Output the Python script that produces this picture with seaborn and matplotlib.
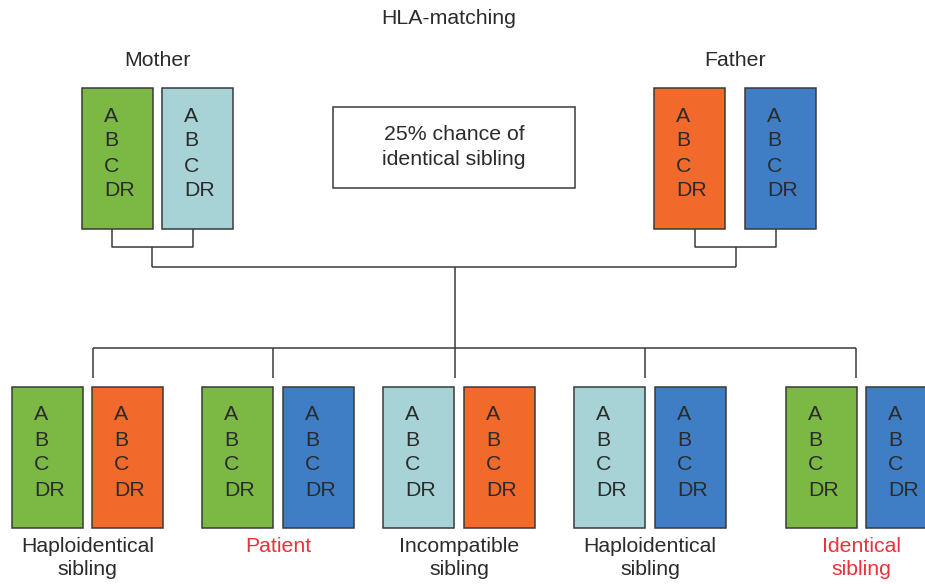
import matplotlib
matplotlib.use("Agg")
import matplotlib.pyplot as plt
import seaborn as sns

# ---- content ----
title = "HLA-matching"
parent_labels = ["Mother", "Father"]
loci = ["A", "B", "C", "DR"]
haplotype_colors = {"m1": "#7cb844", "m2": "#a7d3d6", "f1": "#f2692c", "f2": "#3f7ec4"}
parent_haplotypes = [["m1", "m2"], ["f1", "f2"]]
child_haplotypes = [["m1", "f1"], ["m1", "f2"], ["m2", "f1"], ["m2", "f2"], ["m1", "f2"]]
child_labels = ["Haploidentical\nsibling", "Patient", "Incompatible\nsibling",
                "Haploidentical\nsibling", "Identical\nsibling"]
child_label_red = [False, True, False, False, True]
note_text = "25% chance of\nidentical sibling"

# ---- layout (pixel coordinates) ----
W, H = 925, 584
box_w, box_h = 71, 141
parent_left = [[82, 162], [654, 745]]
parent_top = 88
child_left = [[12, 92], [202, 283], [383, 464], [574, 655], [786, 866]]
child_top = 387
drop_x = [93, 273, 455, 645, 856]

sns.set_theme(style="white")
plt.rcParams["font.family"] = ["Liberation Sans", "DejaVu Sans"]

fig = plt.figure(figsize=(W / 100, H / 100), dpi=100)
ax = fig.add_axes([0, 0, 1, 1])
ax.set_xlim(0, W)
ax.set_ylim(H, 0)
ax.axis("off")

edge = "#3a3a3a"
txt = "#2b2b2b"
fs = 15.3
lw = 1.1


def draw_pair(lefts, keys, top):
    for lx, k in zip(lefts, keys):
        ax.bar(lx, box_h, width=box_w, bottom=top, align="edge",
               color=haplotype_colors[k], edgecolor=edge, linewidth=lw)
        for i, locus in enumerate(loci):
            ax.text(lx + 22, top + 28 + 25 * i, locus, ha="left", va="center",
                    fontsize=fs, color=txt)


for lefts, keys in zip(parent_left, parent_haplotypes):
    draw_pair(lefts, keys, parent_top)
for lefts, keys in zip(child_left, child_haplotypes):
    draw_pair(lefts, keys, child_top)

line_kw = dict(color=edge, linewidth=lw, solid_capstyle="butt")
# parent connectors
for (xa, xb) in [(112, 193), (695, 776)]:
    ax.plot([xa, xa, xb, xb], [parent_top + box_h, 247, 247, parent_top + box_h], **line_kw)
ax.plot([152, 152], [247, 267], **line_kw)
ax.plot([736, 736], [247, 267], **line_kw)
ax.plot([152, 736], [267, 267], **line_kw)
ax.plot([455, 455], [267, 348], **line_kw)
ax.plot([drop_x[0], drop_x[-1]], [348, 348], **line_kw)
for x in drop_x:
    ax.plot([x, x], [348, 378], **line_kw)

# titles
ax.text(449, 19, title, ha="center", va="center", fontsize=fs, color=txt)
ax.text(157, 61, parent_labels[0], ha="center", va="center", fontsize=fs, color=txt)
ax.text(735, 61, parent_labels[1], ha="center", va="center", fontsize=fs, color=txt)

# note box
ax.add_patch(plt.Rectangle((333, 107), 242, 81, fill=False, edgecolor=edge, linewidth=lw))
ax.text(454, 147, note_text, ha="center", va="center", fontsize=fs, color=txt,
        linespacing=1.35)

# child labels
for lefts, lab, red in zip(child_left, child_labels, child_label_red):
    cx = (lefts[0] + lefts[1] + box_w) / 2
    ax.text(cx, 537, lab, ha="center", va="top", fontsize=fs,
            color="#e8333c" if red else txt, linespacing=1.25)

fig.savefig("out.png", dpi=100)
